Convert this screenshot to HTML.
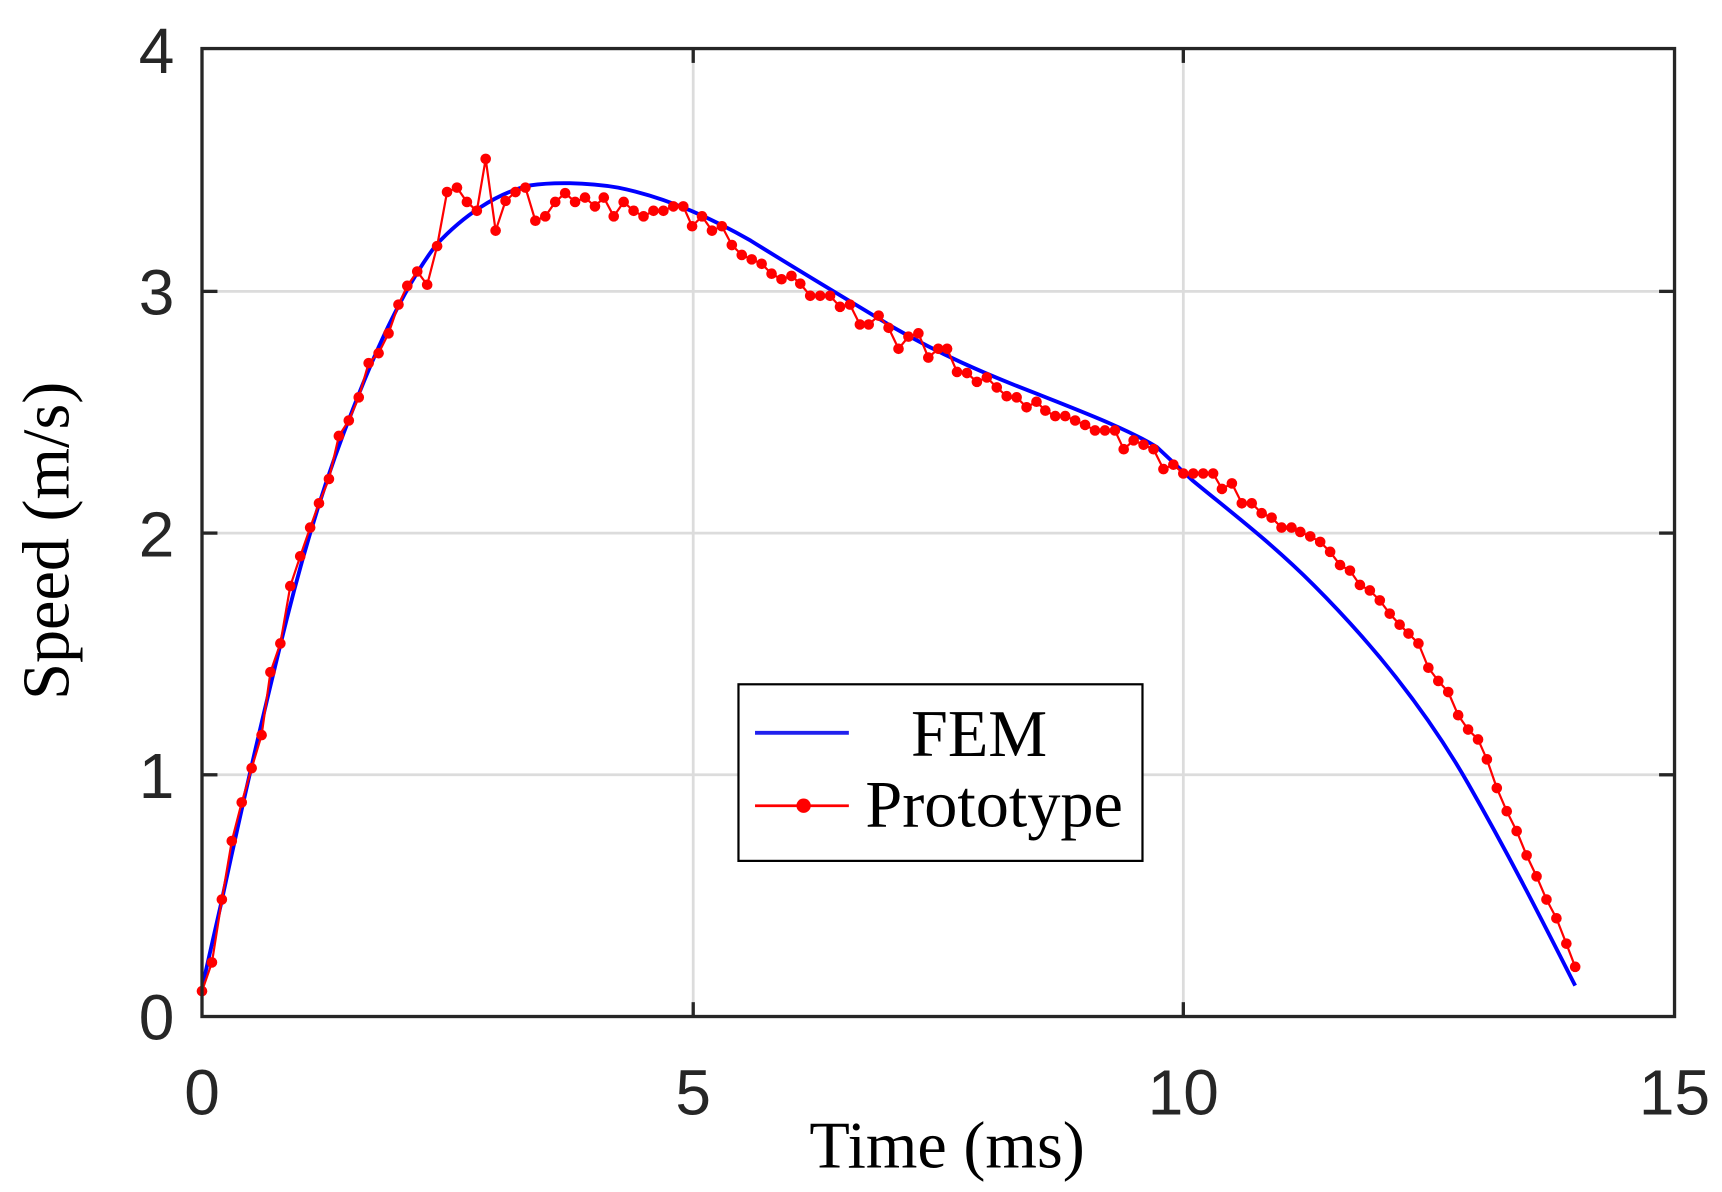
<!DOCTYPE html>
<html><head><meta charset="utf-8"><style>html,body{margin:0;padding:0;background:#fff}svg{display:block}</style></head>
<body>
<svg id="s" width="1722" height="1192" viewBox="0 0 1560 1080" preserveAspectRatio="none" xmlns="http://www.w3.org/2000/svg">
<g stroke="#dcdcdc" stroke-width="2.5">
<line x1="628" y1="44" x2="628" y2="921"/><line x1="1072" y1="44" x2="1072" y2="921"/>
<line x1="183" y1="264" x2="1517" y2="264"/><line x1="183" y1="483" x2="1517" y2="483"/><line x1="183" y1="702" x2="1517" y2="702"/>
</g>
<g stroke="#262626" stroke-width="3">
<line x1="628" y1="921" x2="628" y2="908"/><line x1="1072" y1="921" x2="1072" y2="908"/>
<line x1="628" y1="44" x2="628" y2="57"/><line x1="1072" y1="44" x2="1072" y2="57"/>
<line x1="183" y1="264" x2="197" y2="264"/><line x1="183" y1="483" x2="197" y2="483"/><line x1="183" y1="702" x2="197" y2="702"/>
<line x1="1517" y1="264" x2="1503" y2="264"/><line x1="1517" y1="483" x2="1503" y2="483"/><line x1="1517" y1="702" x2="1503" y2="702"/>
</g>
<path fill="none" stroke="#0000ff" stroke-width="3.5" stroke-linejoin="round" d="M183,895 L200,820 C215,750 235,660 260,560 C280,480 300,420 320,370 C345,305 370,255 395,222 C420,195 450,175 480,168 C500,165 530,165 560,170 C600,178 640,195 680,218 C720,243 760,267 810,297 C850,320 890,338 940,357 C980,373 1020,388 1048,405 L1080,435 C1110,460 1150,490 1190,530 C1240,580 1290,640 1330,710 C1370,780 1400,840 1427,893"/>
<g id="red"></g>
<rect x="183" y="44" width="1334" height="877" fill="none" stroke="#262626" stroke-width="3"/>
<g font-family="Liberation Sans, sans-serif" font-size="58" fill="#262626">
<text x="158" y="942" text-anchor="end">0</text><text x="158" y="723" text-anchor="end">1</text><text x="158" y="504" text-anchor="end">2</text><text x="158" y="285" text-anchor="end">3</text><text x="158" y="66" text-anchor="end">4</text>
<text x="183" y="1010" text-anchor="middle">0</text><text x="628" y="1010" text-anchor="middle">5</text><text x="1072" y="1010" text-anchor="middle">10</text><text x="1517" y="1010" text-anchor="middle">15</text>
</g>
<text x="858" y="1058" font-family="Liberation Serif, serif" font-size="60" text-anchor="middle">Time (ms)</text>
<text transform="translate(62,490) rotate(-90)" font-family="Liberation Serif, serif" font-size="60" text-anchor="middle">Speed (m/s)</text>
<rect x="669" y="620" width="366" height="160" fill="#fff" stroke="#000" stroke-width="2"/>
<line x1="684" y1="664" x2="769" y2="664" stroke="#2020ee" stroke-width="3.5"/>
<line x1="684" y1="730" x2="769" y2="730" stroke="#ff0000" stroke-width="2.5"/>
<circle cx="728" cy="730" r="6.5" fill="#ff0000"/>
<g font-family="Liberation Serif, serif" font-size="60" fill="#000">
<text x="887" y="685" text-anchor="middle">FEM</text>
<text x="784" y="749">Prototype</text>
</g>
</svg>
<script>
var p=[[183,898],[192,872],[201,815],[210,762],[219,727],[228,696],[237,666],[245,609],[254,583],[263,531],[272,504],[281,478],[289,456],[298,434],[307,395],[316,381],[325,360],[334,329],[343,320],[352,302],[361,276],[369,259],[378,246],[387,258],[396,223],[405,174],[414,170],[423,183],[432,191],[440,144],[449,209],[458,182],[467,174],[476,170],[485,200],[494,196],[503,183],[512,175],[521,183],[530,179],[539,187],[547,179],[556,196],[565,183],[574,191],[583,196],[592,191],[601,191],[610,187],[619,187],[627,205],[636,196],[645,209],[654,205],[663,222],[672,231],[681,235],[690,239],[699,248],[708,253],[717,250],[725,257],[734,268],[743,268],[752,268],[761,278],[770,276],[779,294],[787,294],[796,286],[805,297],[814,316],[823,305],[832,302],[841,324],[850,316],[858,316],[867,337],[876,338],[885,346],[894,342],[903,351],[912,359],[921,360],[930,369],[939,364],[947,372],[956,377],[965,377],[974,381],[983,385],[992,390],[1001,390],[1010,390],[1018,407],[1027,399],[1036,403],[1045,407],[1054,425],[1063,421],[1072,429],[1081,429],[1090,429],[1099,429],[1107,443],[1116,438],[1125,456],[1134,456],[1143,465],[1152,469],[1161,478],[1170,478],[1178,482],[1187,486],[1196,491],[1205,500],[1214,512],[1223,517],[1232,530],[1241,535],[1250,544],[1259,556],[1268,566],[1276,574],[1285,583],[1294,605],[1303,617],[1312,627],[1321,648],[1330,661],[1339,670],[1347,688],[1356,714],[1365,735],[1374,753],[1383,775],[1392,794],[1401,815],[1410,832],[1419,855],[1427,876]];
var ns="http://www.w3.org/2000/svg",g=document.getElementById("red");
var pl=document.createElementNS(ns,"polyline");
pl.setAttribute("points",p.map(function(a){return a.join(",")}).join(" "));
pl.setAttribute("fill","none");pl.setAttribute("stroke","#ff0000");pl.setAttribute("stroke-width","2");
g.appendChild(pl);
p.forEach(function(a){var c=document.createElementNS(ns,"circle");c.setAttribute("cx",a[0]);c.setAttribute("cy",a[1]);c.setAttribute("r","4.8");c.setAttribute("fill","#ff0000");g.appendChild(c);});
</script>
</body></html>
